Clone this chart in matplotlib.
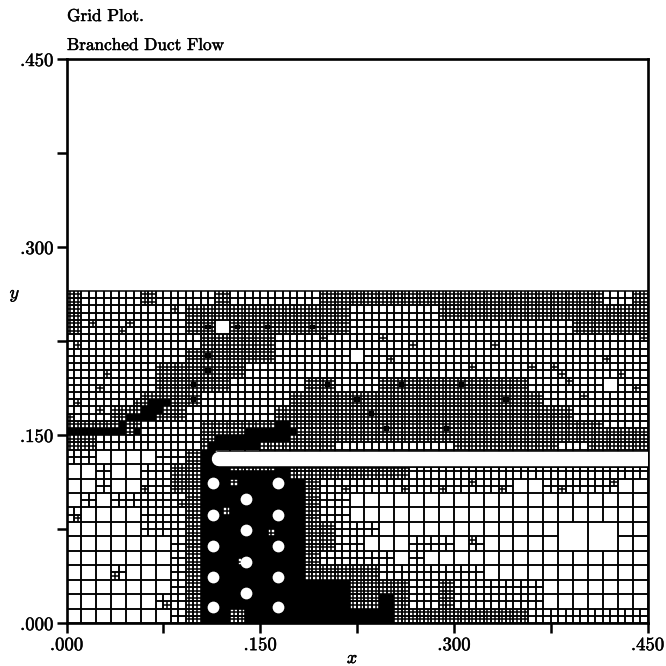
import matplotlib
matplotlib.use('Agg')

import matplotlib.pyplot as plt
import matplotlib.patheffects as pe
from matplotlib.collections import LineCollection

# refinement of each base cell, top row first
# 0 whole cell, - part of a merged cell, other letters see quadrants below
levels = [
    "211112111121111112" + "222222222222222222112",
    "2111111a2222222222" + "2111111" + "22222222222222",
    "2a1aa1112b0b2b22b2" + "2" + "111111111111111" + "22222",
    "a1111111122222111a" + "111a1a1111a111111111a",
    "111111112b22221111" + "101a" + "11111111111111a11",
    "11a111222b22111111" + "111111111a111aaa111a1",
    "11a11122b22111112b" + "111" + "2b222b2222" + "11a11" + "0" + "1a",
    "a111afc2b111111222" + "2b222222222b22" + "11" + "a" + "1111",
    "a1a2c3m2111111222" + "2" + "22b2222222222222" + "11111",
    "ccc" + "ef" + "1111" + "222" + "cc3h22" + "222b222b2222222222" + "jjj",
    "221111111f333ll222" + "dddddddd2222222dd2222",
    "110000112300000000" + "000000000000000000000",
    "0010011223" + "3ccc3222" + "22222" + "1111111111111111",
    "00100a12233p333321" + "a111a11a1a1a001a11a00",
    "0101111a2333333321" + "1" + "00000000000000000000",
    "a000011123p3333321" + "1" + "00000000000000000000",
    "0000011123333p3322" + "111" + "000000000000" + "----" + "00",
    "000000012333333322" + "11000111" + "0a" + "00000" + "----" + "00",
    "00000001233p333321" + "111101" + "000000000000000",
    "000a00012333333322" + "222" + "1111111" + "00000000000",
    "000000012333333333" + "32222112111111" + "0000000",
    "000000a12333333333" + "32232112111111" + "0000000",
    "000000012332333333" + "3333" + "222222222" + "11111111",
]
merged_cells = [(33, 5), (35, 5)]

# sub-level of the four quadrants (tl, tr, bl, br): 0 plain, 1 split, 2 black
quadrants = {
    '1': (0, 0, 0, 0), '2': (1, 1, 1, 1), '3': (2, 2, 2, 2),
    'c': (1, 1, 2, 2), 'd': (1, 1, 0, 0), 'j': (0, 0, 1, 1),
    'e': (1, 2, 2, 2), 'f': (1, 1, 1, 2), 'h': (1, 1, 2, 1),
    'l': (2, 2, 1, 1), 'm': (2, 1, 1, 1),
}

circle_x = [.1135, .1135, .1135, .1135, .1135,
            .139, .139, .139, .139,
            .164, .164, .164, .164, .164]
circle_y = [.112, .0862, .0615, .0367, .0128,
            .099, .0742, .0489, .0242,
            .112, .0862, .0615, .0367, .0128]

slot_x = [.118, .46]
slot_y = [.1305, .1305]

ticks_major = [.0, .15, .3, .45]
ticks_minor = [.075, .225, .375]
tick_labels = ['.000', '.150', '.300', '.450']

dx = .45 / 39
dy = .265 / 23

plt.rcParams['font.family'] = ['cmr10', 'DejaVu Serif']
plt.rcParams['axes.unicode_minus'] = False

fig = plt.figure(figsize=(6.66, 6.66), dpi=100)
ax = fig.add_axes([66.5 / 666, 43 / 666, 581 / 666, 564 / 666])

segs = []
blacks = []


def box(x, y, w, h, n):
    # cell outline plus inner lines, n divisions per side
    for i in range(n + 1):
        segs.append([(x + w * i / n, y), (x + w * i / n, y + h)])
        segs.append([(x, y + h * i / n), (x + w, y + h * i / n)])


def quadrant(x, y, w, h, q):
    if q == 2:
        blacks.append((x, y, w, h))
    else:
        box(x, y, w, h, q + 1)


for n, line in enumerate(levels):
    assert len(line) == 39, n
    r = len(levels) - 1 - n
    for c, ch in enumerate(line):
        x, y = c * dx, r * dy
        if ch == '-':
            continue
        if ch == '0':
            box(x, y, dx, dy, 1)
            continue
        if ch == 'a':
            q = [0, 0, 0, 0]
            q[(c + r) % 4] = 1
        elif ch == 'b':
            # fine cell with one small black spot
            q = [1, 1, 1, 1]
            blacks.append((x + dx * .33, y + dy * .33, dx * .34, dy * .34))
        elif ch == 'p':
            # black cell with a few specks left open
            q = [2, 2, 2, 2]
            q[(c + r) % 4] = 1
        else:
            q = quadrants[ch]
        quadrant(x, y + dy / 2, dx / 2, dy / 2, q[0])
        quadrant(x + dx / 2, y + dy / 2, dx / 2, dy / 2, q[1])
        quadrant(x, y, dx / 2, dy / 2, q[2])
        quadrant(x + dx / 2, y, dx / 2, dy / 2, q[3])

for c, r in merged_cells:
    box(c * dx, r * dy, 2 * dx, 2 * dy, 1)

ax.add_collection(LineCollection(segs, colors='k', linewidths=1.1, zorder=2))
ax.bar([b[0] for b in blacks], [b[3] for b in blacks], width=[b[2] for b in blacks],
       bottom=[b[1] for b in blacks], align='edge', color='k', linewidth=0.3,
       edgecolor='k', zorder=2)

# the splitter plate and the tube bank sit on top of the grid
ax.plot(slot_x, slot_y, color='k', lw=12.2, solid_capstyle='round', zorder=3)
ax.plot(slot_x, slot_y, color='w', lw=10.4, solid_capstyle='round', zorder=4)
ax.scatter(circle_x, circle_y, s=72, color='w', linewidths=0, zorder=4)

ax.set_xlim(0, .45)
ax.set_ylim(0, .45)
ax.set_xticks(ticks_major)
ax.set_xticklabels(tick_labels)
ax.set_yticks(ticks_major)
ax.set_yticklabels(tick_labels)
ax.set_xticks(ticks_minor, minor=True)
ax.set_yticks(ticks_minor, minor=True)
ax.tick_params(which='both', direction='out', length=7.5, width=1.8, labelsize=13.5, pad=2)
for s in ax.spines.values():
    s.set_linewidth(1.9)

heavy = [pe.withStroke(linewidth=0.35, foreground='k')]
texts = [
    fig.text(67 / 666, 1 - 21 / 666, 'Grid Plot.', fontsize=12.4),
    fig.text(67 / 666, 1 - 50 / 666, 'Branched Duct Flow', fontsize=12.4),
    fig.text(352 / 666, 1 - 663 / 666, 'x', family='cmmi10', fontsize=13, ha='center'),
    fig.text(14 / 666, 1 - 298 / 666, 'y', family='cmmi10', fontsize=13, ha='center'),
]
for t in texts + ax.get_xticklabels() + ax.get_yticklabels():
    t.set_path_effects(heavy)

fig.savefig('out.png', dpi=100)
